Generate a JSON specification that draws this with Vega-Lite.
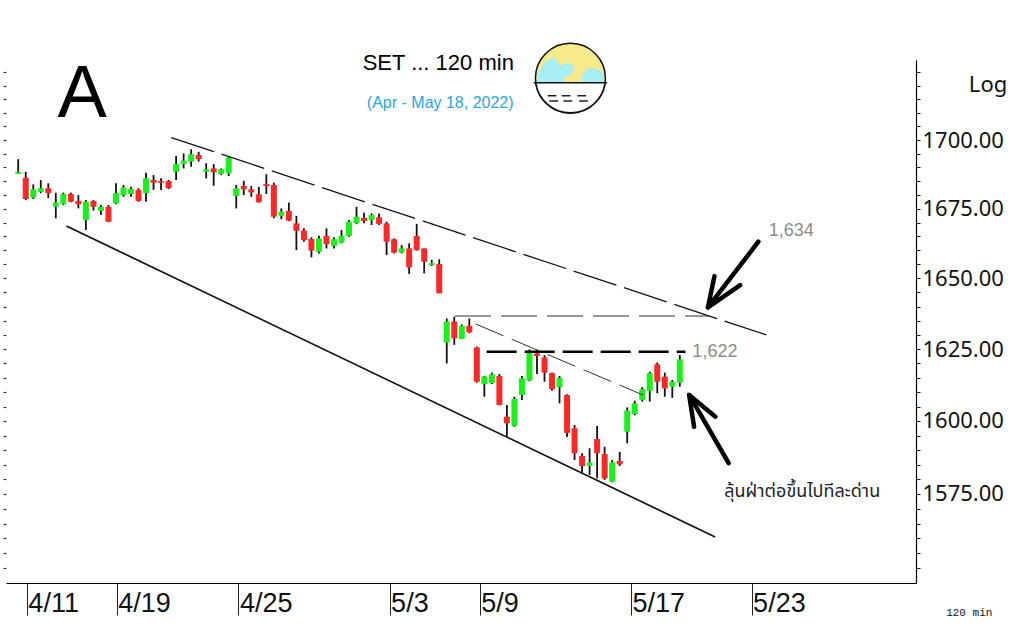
{
  "$schema": "https://vega.github.io/schema/vega-lite/v6.json",
  "width": 910,
  "height": 523,
  "autosize": {"type": "none"},
  "padding": {"left": 6, "top": 60, "right": 108, "bottom": 51},
  "background": "white",
  "config": {"view": {"stroke": null}, "axis": {"grid": false, "title": null}},
  "datasets": {
    "candles": [
      {"i":0,"o":1687.7,"h":1693.0,"l":1687.6,"c":1688.4},
      {"i":1,"o":1686.2,"h":1688.4,"l":1678.1,"c":1678.5},
      {"i":2,"o":1679.0,"h":1683.8,"l":1678.5,"c":1682.0},
      {"i":3,"o":1681.1,"h":1685.4,"l":1680.6,"c":1682.4},
      {"i":4,"o":1682.4,"h":1684.2,"l":1678.8,"c":1680.6},
      {"i":5,"o":1675.7,"h":1680.8,"l":1671.5,"c":1677.2},
      {"i":6,"o":1676.6,"h":1680.8,"l":1676.3,"c":1680.3},
      {"i":7,"o":1680.3,"h":1680.8,"l":1677.3,"c":1677.5},
      {"i":8,"o":1677.8,"h":1679.9,"l":1675.1,"c":1676.6},
      {"i":9,"o":1670.9,"h":1678.1,"l":1667.3,"c":1677.5},
      {"i":10,"o":1677.8,"h":1678.1,"l":1674.3,"c":1675.7},
      {"i":11,"o":1674.2,"h":1676.3,"l":1672.7,"c":1675.7},
      {"i":12,"o":1675.7,"h":1676.3,"l":1670.1,"c":1670.3},
      {"i":13,"o":1676.9,"h":1684.2,"l":1676.6,"c":1680.6},
      {"i":14,"o":1679.9,"h":1683.6,"l":1679.3,"c":1682.6},
      {"i":15,"o":1680.3,"h":1682.9,"l":1679.3,"c":1682.1},
      {"i":16,"o":1681.8,"h":1682.4,"l":1677.5,"c":1677.8},
      {"i":17,"o":1680.6,"h":1688.0,"l":1677.5,"c":1686.0},
      {"i":18,"o":1685.4,"h":1687.2,"l":1681.8,"c":1684.4},
      {"i":19,"o":1685.0,"h":1686.0,"l":1681.8,"c":1684.4},
      {"i":20,"o":1685.0,"h":1685.4,"l":1682.1,"c":1682.4},
      {"i":21,"o":1688.4,"h":1694.1,"l":1685.4,"c":1691.2},
      {"i":22,"o":1691.2,"h":1695.1,"l":1689.6,"c":1692.4},
      {"i":23,"o":1692.1,"h":1696.6,"l":1690.2,"c":1694.8},
      {"i":24,"o":1694.5,"h":1695.7,"l":1692.1,"c":1693.0},
      {"i":25,"o":1688.4,"h":1691.5,"l":1686.0,"c":1689.3},
      {"i":26,"o":1689.6,"h":1691.2,"l":1683.3,"c":1688.2},
      {"i":27,"o":1687.6,"h":1689.6,"l":1687.2,"c":1689.3},
      {"i":28,"o":1687.8,"h":1693.9,"l":1686.8,"c":1693.5},
      {"i":29,"o":1679.6,"h":1683.6,"l":1675.1,"c":1682.4},
      {"i":30,"o":1683.2,"h":1685.1,"l":1679.9,"c":1682.0},
      {"i":31,"o":1682.0,"h":1683.2,"l":1679.3,"c":1680.9},
      {"i":32,"o":1680.2,"h":1682.9,"l":1677.2,"c":1677.3},
      {"i":33,"o":1683.9,"h":1687.5,"l":1680.3,"c":1683.2},
      {"i":34,"o":1683.6,"h":1684.4,"l":1671.5,"c":1672.1},
      {"i":35,"o":1672.4,"h":1675.1,"l":1671.2,"c":1673.9},
      {"i":36,"o":1674.2,"h":1677.2,"l":1670.5,"c":1670.7},
      {"i":37,"o":1669.7,"h":1672.4,"l":1660.1,"c":1667.0},
      {"i":38,"o":1667.1,"h":1667.9,"l":1663.1,"c":1663.7},
      {"i":39,"o":1664.1,"h":1664.7,"l":1657.5,"c":1659.9},
      {"i":40,"o":1659.5,"h":1665.2,"l":1658.9,"c":1664.3},
      {"i":41,"o":1665.2,"h":1667.9,"l":1660.7,"c":1662.2},
      {"i":42,"o":1661.6,"h":1664.7,"l":1660.7,"c":1664.0},
      {"i":43,"o":1662.8,"h":1667.3,"l":1662.5,"c":1665.2},
      {"i":44,"o":1665.2,"h":1670.9,"l":1664.9,"c":1670.3},
      {"i":45,"o":1669.7,"h":1675.7,"l":1669.4,"c":1672.1},
      {"i":46,"o":1671.7,"h":1673.5,"l":1669.7,"c":1670.5},
      {"i":47,"o":1670.9,"h":1673.3,"l":1669.1,"c":1672.7},
      {"i":48,"o":1671.9,"h":1673.3,"l":1669.1,"c":1669.5},
      {"i":49,"o":1669.7,"h":1670.3,"l":1658.3,"c":1663.1},
      {"i":50,"o":1664.0,"h":1664.3,"l":1658.9,"c":1659.2},
      {"i":51,"o":1659.2,"h":1661.9,"l":1658.9,"c":1660.7},
      {"i":52,"o":1660.7,"h":1662.5,"l":1651.6,"c":1653.9},
      {"i":53,"o":1665.2,"h":1669.5,"l":1659.9,"c":1660.1},
      {"i":54,"o":1660.7,"h":1660.7,"l":1651.8,"c":1655.9},
      {"i":55,"o":1654.8,"h":1656.6,"l":1654.4,"c":1655.4},
      {"i":56,"o":1655.1,"h":1656.8,"l":1644.7,"c":1644.7},
      {"i":57,"o":1627.3,"h":1635.8,"l":1620.0,"c":1634.7},
      {"i":58,"o":1634.7,"h":1636.4,"l":1626.5,"c":1628.8},
      {"i":59,"o":1628.6,"h":1633.7,"l":1628.5,"c":1633.2},
      {"i":60,"o":1633.2,"h":1635.8,"l":1630.6,"c":1630.9},
      {"i":61,"o":1625.6,"h":1625.9,"l":1613.3,"c":1613.6},
      {"i":62,"o":1612.8,"h":1615.6,"l":1608.4,"c":1615.4},
      {"i":63,"o":1613.1,"h":1616.8,"l":1612.8,"c":1616.2},
      {"i":64,"o":1615.6,"h":1616.3,"l":1605.4,"c":1605.5},
      {"i":65,"o":1601.5,"h":1605.5,"l":1594.4,"c":1599.2},
      {"i":66,"o":1598.3,"h":1608.4,"l":1598.0,"c":1607.6},
      {"i":67,"o":1609.0,"h":1615.6,"l":1607.3,"c":1614.8},
      {"i":68,"o":1614.0,"h":1624.9,"l":1613.8,"c":1624.5},
      {"i":69,"o":1623.5,"h":1624.8,"l":1616.3,"c":1622.6},
      {"i":70,"o":1622.1,"h":1622.9,"l":1613.6,"c":1616.8},
      {"i":71,"o":1616.6,"h":1616.8,"l":1610.5,"c":1611.0},
      {"i":72,"o":1611.7,"h":1615.6,"l":1606.1,"c":1615.0},
      {"i":73,"o":1609.0,"h":1609.3,"l":1594.5,"c":1595.9},
      {"i":74,"o":1597.5,"h":1598.6,"l":1586.6,"c":1588.9},
      {"i":75,"o":1588.0,"h":1588.9,"l":1581.8,"c":1584.5},
      {"i":76,"o":1584.6,"h":1590.6,"l":1581.5,"c":1585.8},
      {"i":77,"o":1593.8,"h":1598.3,"l":1580.3,"c":1588.9},
      {"i":78,"o":1588.6,"h":1591.1,"l":1579.8,"c":1580.3},
      {"i":79,"o":1579.2,"h":1586.6,"l":1579.0,"c":1585.8},
      {"i":80,"o":1586.3,"h":1589.4,"l":1584.5,"c":1585.1},
      {"i":81,"o":1596.3,"h":1604.7,"l":1592.3,"c":1603.6},
      {"i":82,"o":1602.4,"h":1607.0,"l":1602.0,"c":1606.1},
      {"i":83,"o":1607.3,"h":1611.7,"l":1606.7,"c":1611.0},
      {"i":84,"o":1610.4,"h":1617.1,"l":1606.7,"c":1616.6},
      {"i":85,"o":1619.7,"h":1620.3,"l":1609.6,"c":1613.6},
      {"i":86,"o":1615.4,"h":1616.8,"l":1608.4,"c":1611.3},
      {"i":87,"o":1611.9,"h":1614.2,"l":1608.0,"c":1613.6},
      {"i":88,"o":1613.3,"h":1622.9,"l":1611.9,"c":1621.4}
    ],
    "lines": [
      {"g":"upper","k":0,"i":20.35,"p":1700.9},
      {"g":"upper","k":1,"i":99.54,"p":1629.96},
      {"g":"lower","k":0,"i":6.41,"p":1668.75},
      {"g":"lower","k":1,"i":92.7,"p":1560.46},
      {"g":"h1634","k":0,"i":58.1,"p":1636.66},
      {"g":"h1634","k":1,"i":91.91,"p":1636.66},
      {"g":"h1622","k":0,"i":62.31,"p":1624.1},
      {"g":"h1622","k":1,"i":88.75,"p":1624.1},
      {"g":"thin","k":0,"i":60.87,"p":1633.83},
      {"g":"thin","k":1,"i":83.1,"p":1609.0},
      {"g":"a1s","k":0,"i":98.45,"p":1663.1},
      {"g":"a1s","k":1,"i":91.74,"p":1639.7},
      {"g":"a1h","k":0,"i":92.61,"p":1650.8},
      {"g":"a1h","k":1,"i":91.74,"p":1639.7},
      {"g":"a1h","k":2,"i":96.03,"p":1647.6},
      {"g":"a2s","k":0,"i":94.5,"p":1585.5},
      {"g":"a2s","k":1,"i":89.24,"p":1609.0},
      {"g":"a2h","k":0,"i":89.9,"p":1598.0},
      {"g":"a2h","k":1,"i":89.24,"p":1609.0},
      {"g":"a2h","k":2,"i":92.74,"p":1601.5}
    ],
    "labels": [
      {"k":"big","t":"A","i":8.51,"p":1708.5},
      {"k":"title","t":"SET ... 120 min","i":55.87,"p":1725.9},
      {"k":"sub","t":"(Apr - May 18, 2022)","i":56.13,"p":1711.8},
      {"k":"gray","t":"1,634","i":102.83,"p":1665.2},
      {"k":"grayl","t":"1,622","i":89.67,"p":1622.2},
      {"k":"thai","t":"ลุ้นฝ่าต่อขึ้นไปทีละด่าน","i":104.28,"p":1574.0},
      {"k":"log","t":"Log","i":129.0,"p":1717.7},
      {"k":"mono","t":"120 min","i":126.5,"p":1534.1}
    ],
    "icon": [{"i":73.45,"p":1722.8}]
  },
  "encoding": {
    "x": {
      "field": "i",
      "type": "quantitative",
      "scale": {"domain": [-0.96, 118.75], "nice": false, "zero": false},
      "axis": {
        "orient": "bottom",
        "title": null,
        "values": [1.15, 13.1, 29.3, 49.4, 61.4, 81.5, 97.55],
        "labelExpr": "datum.value < 5 ? '4/11' : datum.value < 20 ? '4/19' : datum.value < 40 ? '4/25' : datum.value < 55 ? '5/3' : datum.value < 70 ? '5/9' : datum.value < 90 ? '5/17' : '5/23'",
        "tickSize": 32,
        "tickWidth": 1,
        "tickColor": "#222",
        "domainColor": "#000",
        "domainWidth": 1.2,
        "labelAlign": "left",
        "labelBaseline": "top",
        "labelPadding": -25,
        "labelOffset": 1,
        "labelFont": "Liberation Sans",
        "labelFontSize": 27,
        "labelColor": "#111",
        "labelOverlap": false,
        "labelBound": false,
        "labelFlush": false
      }
    }
  },
  "layer": [
    {
      "data": {"name": "candles"},
      "mark": {"type": "rule", "color": "#111", "strokeWidth": 1.8},
      "encoding": {
        "y": {
          "field": "l",
          "type": "quantitative",
          "scale": {"type": "log", "domain": [1545.04, 1729.6], "nice": false, "zero": false},
          "axis": {
            "orient": "left",
            "title": null,
            "values": [1550,1555,1560,1565,1570,1575,1580,1585,1590,1595,1600,1605,1610,1615,1620,1625,1630,1635,1640,1645,1650,1655,1660,1665,1670,1675,1680,1685,1690,1695,1700,1705,1710,1715,1720,1725],
            "labels": false,
            "domain": false,
            "tickSize": 3,
            "tickWidth": 1.2,
            "tickColor": "#333"
          }
        },
        "y2": {"field": "h"}
      }
    },
    {
      "data": {"name": "candles"},
      "mark": {"type": "bar", "orient": "vertical", "width": 6},
      "encoding": {
        "y": {
          "field": "o",
          "type": "quantitative",
          "scale": {"type": "log", "domain": [1545.04, 1729.6], "nice": false, "zero": false},
          "axis": {
            "orient": "right",
            "title": null,
            "values": [1550,1555,1560,1565,1570,1575,1580,1585,1590,1595,1600,1605,1610,1615,1620,1625,1630,1635,1640,1645,1650,1655,1660,1665,1670,1675,1680,1685,1690,1695,1700,1705,1710,1715,1720,1725],
            "labelExpr": "datum.value % 25 == 0 && datum.value >= 1575 && datum.value <= 1700 ? format(datum.value, '.2f') : ''",
            "tickSize": 4,
            "tickColor": "#222",
            "domainColor": "#000",
            "domainWidth": 1.2,
            "labelPadding": 2,
            "labelFont": "Noto Sans",
            "labelFontSize": 22,
            "labelColor": "#111",
            "labelOverlap": false,
            "labelBound": false,
            "labelFlush": false
          }
        },
        "y2": {"field": "c"},
        "color": {
          "condition": {"test": "datum.c >= datum.o", "value": "#1bf01b"},
          "value": "#ff2828"
        }
      }
    },
    {
      "data": {"name": "lines"},
      "transform": [{"filter": "datum.g == 'upper'"}],
      "mark": {"type": "line", "color": "#111", "strokeWidth": 1.3, "strokeDash": [45, 8]},
      "encoding": {
        "y": {"field": "p", "type": "quantitative", "scale": {"type": "log", "domain": [1545.04, 1729.6], "nice": false, "zero": false}, "axis": null},
        "order": {"field": "k", "type": "quantitative"}
      }
    },
    {
      "data": {"name": "lines"},
      "transform": [{"filter": "datum.g == 'lower'"}],
      "mark": {"type": "line", "color": "#111", "strokeWidth": 1.7},
      "encoding": {
        "y": {"field": "p", "type": "quantitative", "scale": {"type": "log", "domain": [1545.04, 1729.6], "nice": false, "zero": false}, "axis": null},
        "order": {"field": "k", "type": "quantitative"}
      }
    },
    {
      "data": {"name": "lines"},
      "transform": [{"filter": "datum.g == 'h1634'"}],
      "mark": {"type": "line", "color": "#333", "strokeWidth": 1.2, "strokeDash": [36, 10]},
      "encoding": {
        "y": {"field": "p", "type": "quantitative", "scale": {"type": "log", "domain": [1545.04, 1729.6], "nice": false, "zero": false}, "axis": null},
        "order": {"field": "k", "type": "quantitative"}
      }
    },
    {
      "data": {"name": "lines"},
      "transform": [{"filter": "datum.g == 'h1622'"}],
      "mark": {"type": "line", "color": "#000", "strokeWidth": 2.6, "strokeDash": [30, 8]},
      "encoding": {
        "y": {"field": "p", "type": "quantitative", "scale": {"type": "log", "domain": [1545.04, 1729.6], "nice": false, "zero": false}, "axis": null},
        "order": {"field": "k", "type": "quantitative"}
      }
    },
    {
      "data": {"name": "lines"},
      "transform": [{"filter": "datum.g == 'thin'"}],
      "mark": {"type": "line", "color": "#333", "strokeWidth": 1, "strokeDash": [30, 9]},
      "encoding": {
        "y": {"field": "p", "type": "quantitative", "scale": {"type": "log", "domain": [1545.04, 1729.6], "nice": false, "zero": false}, "axis": null},
        "order": {"field": "k", "type": "quantitative"}
      }
    },
    {
      "data": {"name": "lines"},
      "transform": [{"filter": "datum.g == 'a1s' || datum.g == 'a1h' || datum.g == 'a2s' || datum.g == 'a2h'"}],
      "mark": {"type": "line", "color": "#000", "strokeWidth": 4.5, "strokeCap": "round", "strokeJoin": "round"},
      "encoding": {
        "y": {"field": "p", "type": "quantitative", "scale": {"type": "log", "domain": [1545.04, 1729.6], "nice": false, "zero": false}, "axis": null},
        "detail": {"field": "g", "type": "nominal"},
        "order": {"field": "k", "type": "quantitative"}
      }
    },
    {
      "data": {"name": "icon"},
      "mark": {"type": "point", "shape": "circle", "size": 4900, "filled": true, "fill": "#f7ea8c", "stroke": "#111", "strokeWidth": 1.5, "opacity": 1},
      "encoding": {
        "y": {"field": "p", "type": "quantitative", "scale": {"type": "log", "domain": [1545.04, 1729.6], "nice": false, "zero": false}, "axis": null}
      }
    },
    {
      "data": {"name": "icon"},
      "mark": {"type": "point", "shape": "M -0.93 -0.15 L -0.75 -0.45 L -0.45 -0.6 L -0.3 -0.35 L -0.05 -0.45 L 0.12 -0.3 L 0 -0.1 L -0.2 0 L -0.1 0.2 L -0.96 0.2 Z M 0.35 -0.15 L 0.55 -0.3 L 0.8 -0.25 L 0.95 -0.15 L 0.97 0.2 L 0.3 0.2 Z", "size": 4900, "filled": true, "fill": "#a8eef6", "strokeWidth": 0, "opacity": 1},
      "encoding": {
        "y": {"field": "p", "type": "quantitative", "scale": {"type": "log", "domain": [1545.04, 1729.6], "nice": false, "zero": false}, "axis": null}
      }
    },
    {
      "data": {"name": "icon"},
      "mark": {"type": "point", "shape": "M -1.05 0.13 L 1.05 0.13 L 0.99 0.13 A 1 1 0 0 1 -0.99 0.13 Z", "size": 4900, "filled": true, "fill": "#ffffff", "stroke": "#111", "strokeWidth": 1.5, "opacity": 1},
      "encoding": {
        "y": {"field": "p", "type": "quantitative", "scale": {"type": "log", "domain": [1545.04, 1729.6], "nice": false, "zero": false}, "axis": null}
      }
    },
    {
      "data": {"name": "icon"},
      "mark": {"type": "point", "shape": "M -0.65 0.5 L -0.4 0.5 M -0.25 0.5 L 0 0.5 M 0.2 0.5 L 0.45 0.5 M -0.6 0.65 L -0.35 0.65 M -0.2 0.65 L 0.05 0.65 M 0.25 0.65 L 0.5 0.65", "size": 4900, "filled": false, "stroke": "#222", "strokeWidth": 1.3, "opacity": 1},
      "encoding": {
        "y": {"field": "p", "type": "quantitative", "scale": {"type": "log", "domain": [1545.04, 1729.6], "nice": false, "zero": false}, "axis": null}
      }
    },
    {
      "data": {"name": "labels"},
      "transform": [{"filter": "datum.k == 'big'"}],
      "mark": {"type": "text", "font": "Liberation Sans", "fontSize": 74, "color": "#000", "align": "center", "baseline": "alphabetic"},
      "encoding": {
        "y": {"field": "p", "type": "quantitative", "scale": {"type": "log", "domain": [1545.04, 1729.6], "nice": false, "zero": false}, "axis": null},
        "text": {"field": "t"}
      }
    },
    {
      "data": {"name": "labels"},
      "transform": [{"filter": "datum.k == 'title'"}],
      "mark": {"type": "text", "font": "Liberation Sans", "fontSize": 22, "color": "#000", "align": "center", "baseline": "alphabetic"},
      "encoding": {
        "y": {"field": "p", "type": "quantitative", "scale": {"type": "log", "domain": [1545.04, 1729.6], "nice": false, "zero": false}, "axis": null},
        "text": {"field": "t"}
      }
    },
    {
      "data": {"name": "labels"},
      "transform": [{"filter": "datum.k == 'sub'"}],
      "mark": {"type": "text", "font": "Liberation Sans", "fontSize": 16, "color": "#29a8e0", "align": "center", "baseline": "alphabetic"},
      "encoding": {
        "y": {"field": "p", "type": "quantitative", "scale": {"type": "log", "domain": [1545.04, 1729.6], "nice": false, "zero": false}, "axis": null},
        "text": {"field": "t"}
      }
    },
    {
      "data": {"name": "labels"},
      "transform": [{"filter": "datum.k == 'gray'"}],
      "mark": {"type": "text", "font": "Liberation Sans", "fontSize": 18, "color": "#8c8c8c", "align": "center", "baseline": "alphabetic"},
      "encoding": {
        "y": {"field": "p", "type": "quantitative", "scale": {"type": "log", "domain": [1545.04, 1729.6], "nice": false, "zero": false}, "axis": null},
        "text": {"field": "t"}
      }
    },
    {
      "data": {"name": "labels"},
      "transform": [{"filter": "datum.k == 'grayl'"}],
      "mark": {"type": "text", "font": "Liberation Sans", "fontSize": 18, "color": "#8c8c8c", "align": "left", "baseline": "alphabetic"},
      "encoding": {
        "y": {"field": "p", "type": "quantitative", "scale": {"type": "log", "domain": [1545.04, 1729.6], "nice": false, "zero": false}, "axis": null},
        "text": {"field": "t"}
      }
    },
    {
      "data": {"name": "labels"},
      "transform": [{"filter": "datum.k == 'thai'"}],
      "mark": {"type": "text", "font": "Noto Sans Thai, Noto Sans, DejaVu Sans, sans-serif", "fontSize": 18, "color": "#222", "align": "center", "baseline": "alphabetic"},
      "encoding": {
        "y": {"field": "p", "type": "quantitative", "scale": {"type": "log", "domain": [1545.04, 1729.6], "nice": false, "zero": false}, "axis": null},
        "text": {"field": "t"}
      }
    },
    {
      "data": {"name": "labels"},
      "transform": [{"filter": "datum.k == 'log'"}],
      "mark": {"type": "text", "font": "Noto Sans", "fontSize": 22, "color": "#111", "align": "center", "baseline": "alphabetic"},
      "encoding": {
        "y": {"field": "p", "type": "quantitative", "scale": {"type": "log", "domain": [1545.04, 1729.6], "nice": false, "zero": false}, "axis": null},
        "text": {"field": "t"}
      }
    },
    {
      "data": {"name": "labels"},
      "transform": [{"filter": "datum.k == 'mono'"}],
      "mark": {"type": "text", "font": "Liberation Mono", "fontSize": 11, "color": "#111", "align": "center", "baseline": "alphabetic"},
      "encoding": {
        "y": {"field": "p", "type": "quantitative", "scale": {"type": "log", "domain": [1545.04, 1729.6], "nice": false, "zero": false}, "axis": null},
        "text": {"field": "t"}
      }
    }
  ],
  "resolve": {"axis": {"y": "independent"}}
}
